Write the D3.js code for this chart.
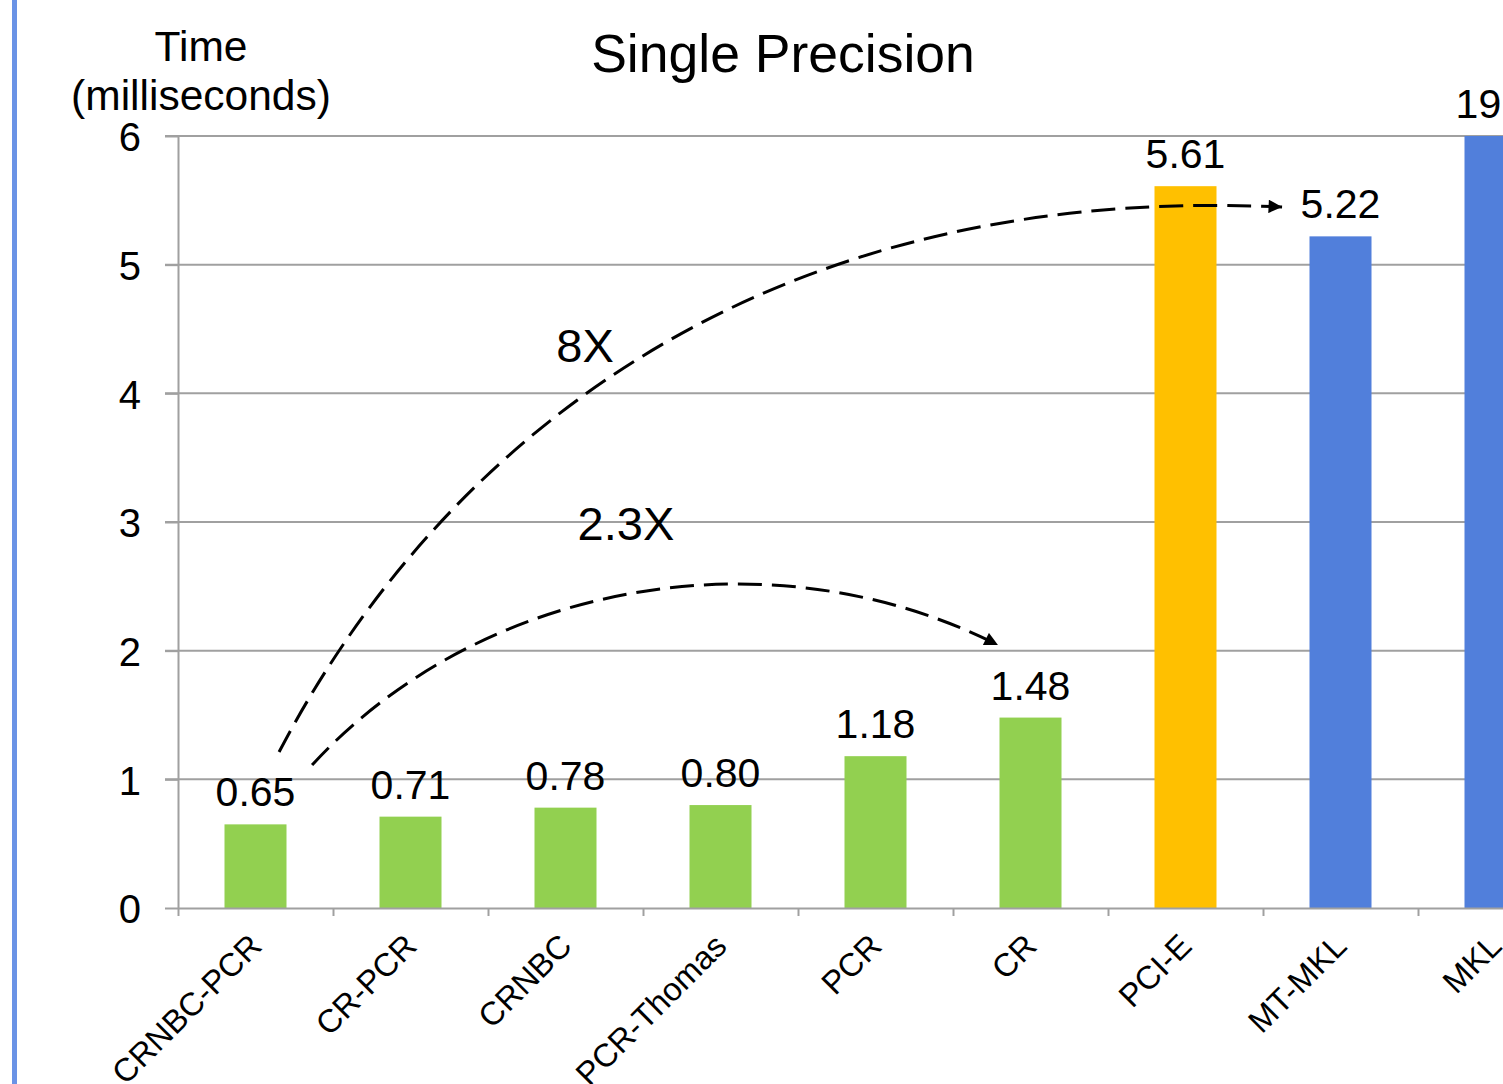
<!DOCTYPE html>
<html>
<head>
<meta charset="utf-8">
<script src="https://cdn.jsdelivr.net/npm/d3@7"></script>
<style>
  html, body { margin: 0; padding: 0; background: #fff; overflow: hidden; }
  text { font-family: "Liberation Sans", Arial, sans-serif; fill: #000; }
</style>
</head>
<body>
<svg id="chart" width="1503" height="1084"></svg>
<script>
// ---- data ----
const categories = ["CRNBC-PCR", "CR-PCR", "CRNBC", "PCR-Thomas", "PCR", "CR", "PCI-E", "MT-MKL", "MKL"];
const values = [0.65, 0.71, 0.78, 0.80, 1.18, 1.48, 5.61, 5.22, 19.6];
const valueLabels = ["0.65", "0.71", "0.78", "0.80", "1.18", "1.48", "5.61", "5.22", "19.6"];
const groups = ["gpu", "gpu", "gpu", "gpu", "gpu", "gpu", "pcie", "cpu", "cpu"];
const yTicks = [0, 1, 2, 3, 4, 5, 6];
const chartTitle = "Single Precision";
const yTitle = ["Time", "(milliseconds)"];
// annotation arrows, in (category-index, value) units
const arrow8x = [[0.652, 1.212], [1.497, 3.171], [3.400, 5.658], [7.123, 5.448]];
const arrow23x = [[0.865, 1.111], [1.948, 2.534], [3.819, 2.938], [5.290, 2.044]];
const annotations = [
  { text: "8X", x: 2.626, y: 4.243 },
  { text: "2.3X", x: 2.890, y: 2.86 }
];

// ---- layout ----
const colors = { gpu: "#92D050", pcie: "#FFC000", cpu: "#517FDB" };
const plotLeft = 178, plotTop = 136, plotBottom = 908;
const step = 155;
const svg = d3.select("#chart");

const x = d3.scaleBand().domain(categories)
  .range([plotLeft, plotLeft + step * categories.length])
  .paddingInner(0.6).paddingOuter(0.3);
const xi = d3.scaleLinear().domain([0, categories.length])
  .range([plotLeft, plotLeft + step * categories.length]);
const y = d3.scaleLinear().domain([0, 6]).range([plotBottom, plotTop]);

// left blue rule
svg.append("rect").attr("x", 12).attr("y", 0).attr("width", 5).attr("height", 1084)
  .attr("fill", "#6A93E6");

// gridlines
svg.append("g").selectAll("line").data(yTicks.filter(d => d > 0)).join("line")
  .attr("x1", plotLeft - 13).attr("x2", 1503)
  .attr("y1", d => y(d)).attr("y2", d => y(d))
  .attr("stroke", "#A0A0A0").attr("stroke-width", 2);

// clip for bars
svg.append("clipPath").attr("id", "plotclip").append("rect")
  .attr("x", plotLeft).attr("y", plotTop).attr("width", 2000).attr("height", plotBottom - plotTop);

// bars
svg.append("g").attr("clip-path", "url(#plotclip)")
  .selectAll("rect").data(categories).join("rect")
  .attr("x", d => x(d))
  .attr("width", x.bandwidth())
  .attr("y", (d, i) => y(Math.min(values[i], 6.2)))
  .attr("height", (d, i) => y(0) - y(Math.min(values[i], 6.2)))
  .attr("fill", (d, i) => colors[groups[i]]);

// y axis
const yAxis = d3.axisLeft(y).tickValues(yTicks).tickFormat(d3.format("d"))
  .tickSize(13).tickSizeOuter(0).tickPadding(24);
const gy = svg.append("g").attr("transform", `translate(${plotLeft},0)`).call(yAxis);
gy.select(".domain").attr("stroke", "#A0A0A0").attr("stroke-width", 2);
gy.selectAll(".tick line").attr("stroke", "#A0A0A0").attr("stroke-width", 2);
gy.selectAll(".tick text").attr("font-size", 40).attr("font-family", "Liberation Sans, Arial, sans-serif")
  .attr("fill", "#000").attr("dy", "0.37em");

// x axis
const xAxis = d3.axisBottom(xi).tickValues(d3.range(0, categories.length + 1)).tickSize(8).tickSizeOuter(0).tickFormat("");
const gx = svg.append("g").attr("transform", `translate(0,${plotBottom})`).call(xAxis);
gx.select(".domain").attr("stroke", "#A0A0A0").attr("stroke-width", 2);
gx.selectAll(".tick line").attr("stroke", "#A0A0A0").attr("stroke-width", 2);

// category labels
svg.append("g").selectAll("text").data(categories).join("text")
  .attr("transform", d => `translate(${x(d) + x.bandwidth() / 2 + 8},${plotBottom + 40}) rotate(-45)`)
  .attr("text-anchor", "end")
  .attr("font-size", 32.5)
  .text(d => d);

// value labels
svg.append("g").selectAll("text").data(categories).join("text")
  .attr("x", d => x(d) + x.bandwidth() / 2)
  .attr("y", (d, i) => y(Math.min(values[i], 6)) - 18)
  .attr("text-anchor", "middle")
  .attr("font-size", 41)
  .text((d, i) => valueLabels[i]);

// title
svg.append("text").attr("x", 783).attr("y", 72).attr("text-anchor", "middle")
  .attr("font-size", 53.5).text(chartTitle);

// y title
svg.append("text").attr("x", 201).attr("y", 61).attr("text-anchor", "middle")
  .attr("font-size", 42.5).text(yTitle[0]);
svg.append("text").attr("x", 201).attr("y", 110).attr("text-anchor", "middle")
  .attr("font-size", 42.5).text(yTitle[1]);

// arrow marker
const defs = svg.append("defs");
defs.append("marker").attr("id", "arrowhead")
  .attr("viewBox", "0 0 10 10").attr("refX", 10).attr("refY", 5)
  .attr("markerWidth", 5).attr("markerHeight", 4.5).attr("markerUnits", "strokeWidth")
  .attr("orient", "auto")
  .append("path").attr("d", "M0,0 L10,5 L0,10 Z").attr("fill", "#000");

function bezier(pts) {
  const p = pts.map(([a, b]) => [xi(a), y(b)]);
  const path = d3.path();
  path.moveTo(p[0][0], p[0][1]);
  path.bezierCurveTo(p[1][0], p[1][1], p[2][0], p[2][1], p[3][0], p[3][1]);
  return path.toString();
}
[arrow8x, arrow23x].forEach(a => {
  svg.append("path").attr("d", bezier(a))
    .attr("fill", "none").attr("stroke", "#000").attr("stroke-width", 3)
    .attr("stroke-dasharray", "24,10")
    .attr("marker-end", "url(#arrowhead)");
});

svg.append("g").selectAll("text").data(annotations).join("text")
  .attr("x", d => xi(d.x)).attr("y", d => y(d.y))
  .attr("text-anchor", "middle").attr("font-size", 47)
  .text(d => d.text);
</script>
</body>
</html>
